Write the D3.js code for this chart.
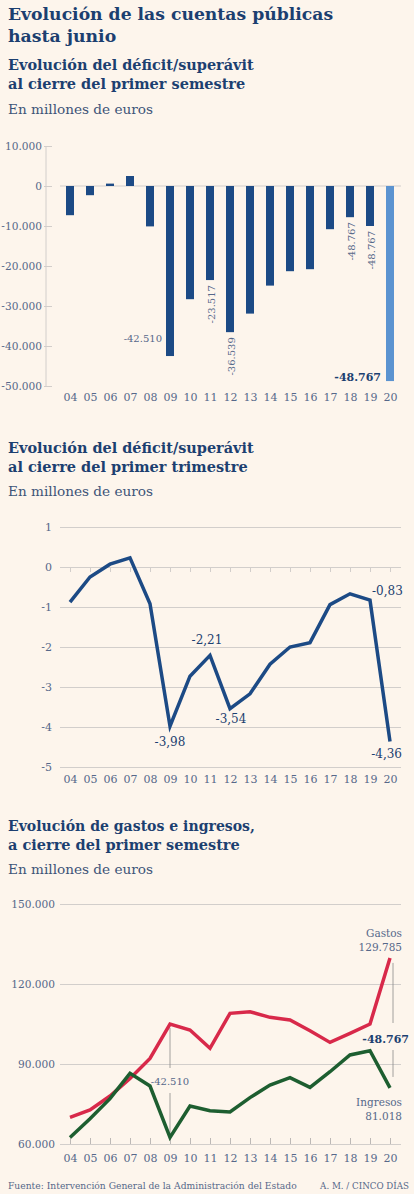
<!DOCTYPE html>
<html><head><meta charset="utf-8">
<script src="https://cdn.jsdelivr.net/npm/d3@7"></script>
<style>
html,body{margin:0;padding:0;background:#fdf5ec;}
svg{display:block;}
</style></head>
<body>
<script>
const years = ["04","05","06","07","08","09","10","11","12","13","14","15","16","17","18","19","20"];
const semestreDeficit = [-7300,-2300,600,2500,-10100,-42510,-28300,-23517,-36539,-31900,-24900,-21300,-20800,-10800,-7800,-10000,-48767];
const semestreTicks = [10000,0,-10000,-20000,-30000,-40000,-50000];
const trimestreDeficit = [-0.88,-0.25,0.07,0.23,-0.92,-3.98,-2.73,-2.21,-3.54,-3.17,-2.43,-2.0,-1.89,-0.94,-0.67,-0.83,-4.36];
const trimestreTicks = [1,0,-1,-2,-3,-4,-5];
const gastos = [70000,72750,78000,84600,92100,105000,102750,95900,109000,109600,107500,106500,102500,98100,101500,105000,129785];
const ingresos = [62400,69500,77000,86500,81750,62490,74250,72500,72000,77400,82100,84900,81250,87100,93400,95000,81018];
const gastosTicks = [150000,120000,90000,60000];

const W = 414, H = 1194;
const BG = "#fdf5ec", NAVY = "#1c3f70", BAR = "#1c4a85", BAR_HL = "#5b93d0",
      AXIS_TXT = "#56688a", GRID = "#d2cecb", RED = "#d8294a", GREEN = "#1d5e30";
const SERIF = "'DejaVu Serif',serif";
const fmt = n => d3.format(",")(n).replace(/,/g,".").replace("\u2212","-");
const fmtC = n => n.toFixed(2).replace(".",",").replace("\u2212","-");

const svg = d3.select("body").append("svg").attr("width",W).attr("height",H)
  .style("font-family",SERIF);
svg.append("rect").attr("width",W).attr("height",H).attr("fill",BG);

function text(x,y,s,o={}){
  const t = svg.append("text").attr("x",x).attr("y",y).text(s)
    .attr("font-size",o.size||12).attr("font-weight",o.weight||"normal")
    .attr("fill",o.fill||AXIS_TXT).attr("text-anchor",o.anchor||"start");
  if(o.fit){ const l = t.node().getComputedTextLength(); t.attr("font-size",(o.size||12)*o.fit/l); }
  return t;
}
const H1 = {size:17.3,weight:"bold",fill:NAVY};
const H2 = {size:14.5,weight:"bold",fill:NAVY};
const SUB = {size:13.6,fill:"#3e5478"};
// Titles
text(8,20,"Evolución de las cuentas públicas",{...H1,fit:325});
text(8,42,"hasta junio",{...H1});
text(8,70,"Evolución del déficit/superávit",{...H2,fit:246});
text(8,89,"al cierre del primer semestre",{...H2});
text(8,114,"En millones de euros",{...SUB,fit:145});

const x = d3.scalePoint().domain(years).range([70,390]);
const styleTicks = (g,size)=>g.selectAll("text").attr("font-family",SERIF).attr("font-size",size).attr("fill",AXIS_TXT);

// ---------- Chart 1: bars
const y1 = d3.scaleLinear().domain([-50000,10000]).range([386,146]);
const g1 = svg.append("g");
g1.append("line").attr("x1",46).attr("x2",46).attr("y1",146).attr("y2",386).attr("stroke",GRID);
g1.append("g").attr("transform","translate(52,0)")
  .call(d3.axisLeft(y1).tickValues(semestreTicks).tickSize(8).tickFormat(fmt))
  .call(g=>{g.select(".domain").remove();
    g.selectAll("line").attr("stroke",GRID);
    styleTicks(g,10.6); g.selectAll("text").attr("x",-10);});
g1.append("line").attr("x1",60).attr("x2",401).attr("y1",y1(0)).attr("y2",y1(0)).attr("stroke",GRID).attr("stroke-width",1.2);
const bw = 8;
g1.selectAll("rect.bar").data(semestreDeficit).join("rect")
  .attr("x",(d,i)=>x(years[i])-bw/2).attr("width",bw)
  .attr("y",d=>y1(Math.max(0,d))).attr("height",d=>Math.abs(y1(d)-y1(0)))
  .attr("fill",(d,i)=>i===years.length-1?BAR_HL:BAR);
g1.append("g").attr("transform","translate(0,397)")
  .call(d3.axisBottom(x).tickSize(0))
  .call(g=>{g.select(".domain").remove(); styleTicks(g,11);
    g.selectAll("text").attr("dy","0.35em").attr("y",0);});
// bar labels
const i09 = years.indexOf("09");
text(x("09")-8, y1(semestreDeficit[i09])-14, fmt(semestreDeficit[i09]),{size:10,anchor:"end"});
[["11",fmt(semestreDeficit[7])],["12",fmt(semestreDeficit[8])],["18","-48.767"],["19","-48.767"]].forEach(([yr,lab])=>{
  const i = years.indexOf(yr);
  const bx = x(yr)+1, by = y1(semestreDeficit[i])+5;
  svg.append("text").attr("transform",`translate(${bx},${by}) rotate(-90)`)
    .attr("text-anchor","end").attr("dy","0.35em").text(lab)
    .attr("font-size",10).attr("fill",AXIS_TXT);
});
text(x("20")-9, 381, fmt(semestreDeficit[16]),{size:11,weight:"bold",fill:NAVY,anchor:"end"});

// ---------- Chart 2: line
text(8,453,"Evolución del déficit/superávit",{...H2,fit:246});
text(8,472,"al cierre del primer trimestre",{...H2});
text(8,496,"En millones de euros",{...SUB,fit:145});
const y2 = d3.scaleLinear().domain([-5,1]).range([767,527]);
const g2 = svg.append("g");
g2.append("g").attr("transform","translate(60,0)")
  .call(d3.axisLeft(y2).tickValues(trimestreTicks).tickSize(-341).tickFormat(d=>String(d)))
  .call(g=>{g.select(".domain").remove();
    g.selectAll("line").attr("stroke",GRID);
    styleTicks(g,11); g.selectAll("text").attr("x",-8);});
g2.append("g").attr("transform",`translate(0,${y2(0)})`)
  .call(d3.axisBottom(x).tickSize(5).tickFormat(""))
  .call(g=>{g.select(".domain").remove(); g.selectAll("line").attr("stroke",GRID);});
g2.append("g").attr("transform","translate(0,779)")
  .call(d3.axisBottom(x).tickSize(0))
  .call(g=>{g.select(".domain").remove(); styleTicks(g,11);
    g.selectAll("text").attr("dy","0.35em").attr("y",0);});
g2.append("path").datum(trimestreDeficit)
  .attr("d",d3.line().x((d,i)=>x(years[i])).y(d=>y2(d)))
  .attr("fill","none").attr("stroke",BAR).attr("stroke-width",3.5).attr("stroke-linejoin","miter");
const lab2 = (yr,dx,dy,anchor)=>{const i=years.indexOf(yr);
  text(x(yr)+dx, y2(trimestreDeficit[i])+dy, fmtC(trimestreDeficit[i]),{size:12,fill:NAVY,anchor});};
lab2("09",0,20,"middle");
lab2("11",-3,-11,"middle");
lab2("12",1,14,"middle");
lab2("19",2,-5,"start");
lab2("20",12,17,"end");

// ---------- Chart 3: gastos / ingresos
text(8,831,"Evolución de gastos e ingresos,",{...H2,fit:247});
text(8,850,"a cierre del primer semestre",{...H2});
text(8,874,"En millones de euros",{...SUB,fit:145});
const y3 = d3.scaleLinear().domain([60000,150000]).range([1144,904]);
const g3 = svg.append("g");
g3.append("g").attr("transform","translate(60,0)")
  .call(d3.axisLeft(y3).tickValues(gastosTicks).tickSize(-341).tickFormat(fmt))
  .call(g=>{g.select(".domain").remove();
    g.selectAll("line").attr("stroke",GRID);
    styleTicks(g,10.6); g.selectAll("text").attr("x",-5);});
g3.append("g").attr("transform",`translate(0,${y3(60000)})`)
  .call(d3.axisTop(x).tickSize(6).tickFormat(""))
  .call(g=>{g.select(".domain").remove(); g.selectAll("line").attr("stroke","#bdb9b6");});
g3.append("g").attr("transform","translate(0,1158)")
  .call(d3.axisBottom(x).tickSize(0))
  .call(g=>{g.select(".domain").remove(); styleTicks(g,11);
    g.selectAll("text").attr("dy","0.35em").attr("y",0);});
// difference markers
const i20 = years.length-1;
const vline = (xx,a,b)=>g3.append("line").attr("x1",xx).attr("x2",xx).attr("y1",a).attr("y2",b).attr("stroke","#8a8a8a").attr("stroke-width",0.8);
vline(x("09"), y3(gastos[i09])+4, 1068);
vline(x("09"), 1093, y3(ingresos[i09])-4);
vline(x("20")+3, y3(gastos[i20])+5, 1023);
vline(x("20")+3, 1050, y3(ingresos[i20])-11);
const line3 = d3.line().x((d,i)=>x(years[i])).y(d=>y3(d));
g3.append("path").datum(gastos).attr("d",line3).attr("fill","none").attr("stroke",RED).attr("stroke-width",3.5);
g3.append("path").datum(ingresos).attr("d",line3).attr("fill","none").attr("stroke",GREEN).attr("stroke-width",3.5);
text(x("09"),1085,fmt(ingresos[i09]-gastos[i09]),{size:10,anchor:"middle"});
text(409,1043,fmt(Math.round(ingresos[i20]-gastos[i20])),{size:11,weight:"bold",fill:NAVY,anchor:"end"});
text(402,937,"Gastos",{size:10.5,anchor:"end"});
text(402,951,fmt(gastos[i20]),{size:10.5,anchor:"end"});
text(402,1106,"Ingresos",{size:10.5,anchor:"end"});
text(402,1120,fmt(ingresos[i20]),{size:10.5,anchor:"end"});

// footer
text(8,1189,"Fuente: Intervención General de la Administración del Estado",{size:9.5,fill:"#56688a",fit:289});
text(409,1189,"A. M. / CINCO DÍAS",{size:9.5,fill:"#56688a",anchor:"end",fit:89});
</script>
</body></html>
